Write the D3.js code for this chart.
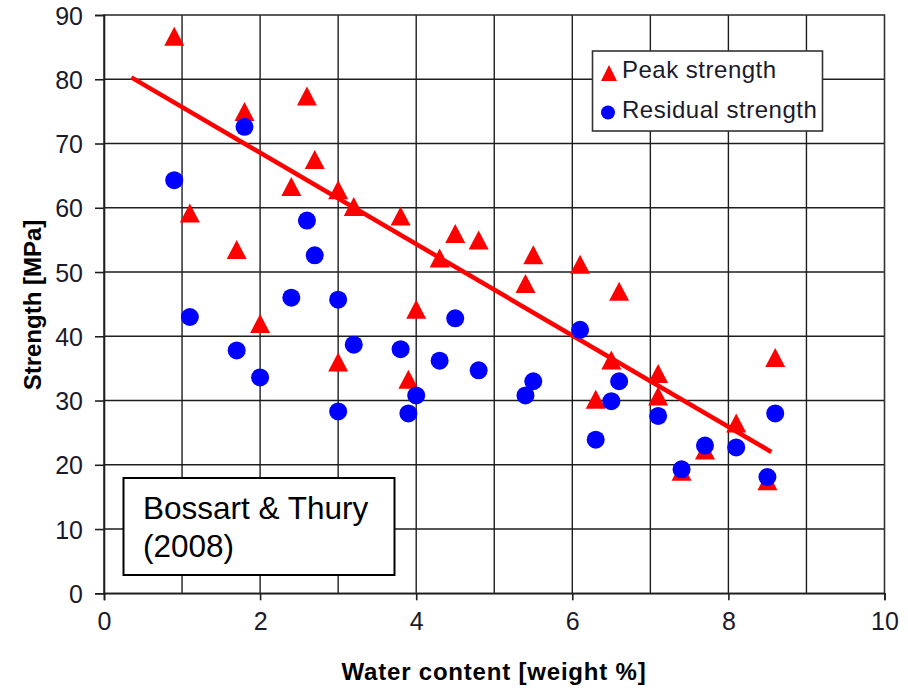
<!DOCTYPE html>
<html>
<head>
<meta charset="utf-8">
<script src="https://cdn.jsdelivr.net/npm/d3@7"></script>
<style>
  html, body { margin: 0; padding: 0; background: #fff; }
  svg { display: block; font-family: "Liberation Sans", Arial, sans-serif; }
</style>
</head>
<body>
<svg id="chart"></svg>
<script>
const width = 908;
const height = 688;

// peak strength (triangles)
const peakX = [0.9, 1.1, 1.7, 1.8, 2.0, 2.4, 2.6, 2.7, 3.0, 3.0, 3.2, 3.8, 3.9, 4.0, 4.3,
  4.5, 4.8, 5.4, 5.5, 6.1, 6.3, 6.5, 6.6, 7.1, 7.1, 7.4, 7.7, 8.1, 8.5, 8.6];
const peakY = [86.7, 59.2, 53.5, 75.0, 42.0, 63.3, 77.4, 67.5, 62.8, 36.0, 60.2, 58.7, 33.3, 44.2, 52.2,
  56.0, 55.0, 48.2, 52.7, 51.2, 30.2, 36.3, 47.0, 34.2, 30.7, 19.0, 22.3, 26.5, 17.5, 36.7];

// residual strength (circles)
const residualX = [0.9, 1.1, 1.7, 1.8, 2.0, 2.4, 2.6, 2.7, 3.0, 3.0, 3.2, 3.8, 3.9, 4.0, 4.3,
  4.5, 4.8, 5.4, 5.5, 6.1, 6.3, 6.5, 6.6, 7.1, 7.4, 7.7, 8.1, 8.5, 8.6];
const residualY = [64.3, 43.0, 37.8, 72.6, 33.6, 46.0, 58.0, 52.6, 45.7, 28.3, 38.7, 38.0, 28.0, 30.8, 36.2,
  42.8, 34.7, 30.8, 33.0, 41.0, 23.9, 29.9, 33.0, 27.6, 19.3, 23.0, 22.7, 18.1, 28.0];

// linear trend of the peak strength
const trendX = [0.35, 8.55];
const trendY = [80.3, 22.0];

const xTicks = [0, 2, 4, 6, 8, 10];
const xGrid = [1, 2, 3, 4, 5, 6, 7, 8, 9];
const yTicks = [0, 10, 20, 30, 40, 50, 60, 70, 80, 90];

const legendLabels = ["Peak strength", "Residual strength"];
const noteLines = ["Bossart & Thury", "(2008)"];

const margin = {top: 15, right: 23.5, bottom: 94.7, left: 104};

const svg = d3.select("#chart")
    .attr("width", width)
    .attr("height", height);

const x = d3.scaleLinear()
    .domain([0, 10])
    .range([margin.left, width - margin.right]);

const y = d3.scaleLinear()
    .domain([0, 90])
    .range([height - margin.bottom, margin.top]);

const gridColor = "#1e1e1e";

// grid lines
svg.append("g")
  .selectAll("line")
  .data(xGrid)
  .join("line")
    .attr("x1", d => x(d)).attr("x2", d => x(d))
    .attr("y1", y(0)).attr("y2", y(90))
    .attr("stroke", gridColor)
    .attr("stroke-width", 1.4);

svg.append("g")
  .selectAll("line")
  .data(yTicks.slice(1, -1))
  .join("line")
    .attr("x1", x(0)).attr("x2", x(10))
    .attr("y1", d => y(d)).attr("y2", d => y(d))
    .attr("stroke", gridColor)
    .attr("stroke-width", 1.4);

// plot frame
svg.append("rect")
    .attr("x", x(0)).attr("y", y(90))
    .attr("width", x(10) - x(0))
    .attr("height", y(0) - y(90))
    .attr("fill", "none")
    .attr("stroke", "#333")
    .attr("stroke-width", 1.6);

// axes
const xAxis = svg.append("g")
    .attr("transform", `translate(0,${y(0)})`)
    .call(d3.axisBottom(x).tickValues(xTicks).tickSize(7).tickPadding(12));
const yAxis = svg.append("g")
    .attr("transform", `translate(${x(0)},0)`)
    .call(d3.axisLeft(y).tickValues(yTicks).tickSize(9).tickPadding(12));

[xAxis, yAxis].forEach(g => {
  g.select(".domain").attr("stroke", "#1e1e1e").attr("stroke-width", 1.6);
  g.selectAll(".tick line").attr("stroke", "#1e1e1e").attr("stroke-width", 1.6);
  g.selectAll(".tick text")
    .attr("fill", "#1a1a2a")
    .style("font-size", "25px")
    .style("font-family", "'Liberation Sans', Arial, sans-serif");
});
yAxis.selectAll(".tick text").attr("dy", "0.36em");

// axis titles
svg.append("text")
    .attr("x", 494)
    .attr("y", 680)
    .attr("text-anchor", "middle")
    .style("font-size", "24px")
    .style("font-weight", "bold")
    .style("letter-spacing", "0.8px")
    .text("Water content [weight %]");

svg.append("text")
    .attr("transform", "translate(41,305) rotate(-90)")
    .attr("text-anchor", "middle")
    .style("font-size", "24px")
    .style("font-weight", "bold")
    .text("Strength [MPa]");

// trendline
svg.append("line")
    .attr("x1", x(trendX[0])).attr("y1", y(trendY[0]))
    .attr("x2", x(trendX[1])).attr("y2", y(trendY[1]))
    .attr("stroke", "#ff0000")
    .attr("stroke-width", 4.5);

// marker shapes
const triPath = (w, h) => `M0,${-h / 2}L${w / 2},${h / 2}L${-w / 2},${h / 2}Z`;

svg.append("g")
  .selectAll("path")
  .data(peakX.map((d, i) => [d, peakY[i]]))
  .join("path")
    .attr("d", triPath(20, 19))
    .attr("transform", d => `translate(${x(d[0])},${y(d[1])})`)
    .attr("fill", "#ff0000");

svg.append("g")
  .selectAll("circle")
  .data(residualX.map((d, i) => [d, residualY[i]]))
  .join("circle")
    .attr("cx", d => x(d[0]))
    .attr("cy", d => y(d[1]))
    .attr("r", 9)
    .attr("fill", "#0000ff");

// legend
const legend = svg.append("g");
legend.append("rect")
    .attr("x", 592.5).attr("y", 51)
    .attr("width", 230).attr("height", 80)
    .attr("fill", "#fff")
    .attr("stroke", "#333")
    .attr("stroke-width", 1.6);

legend.append("path")
    .attr("d", triPath(16, 16))
    .attr("transform", "translate(609,73)")
    .attr("fill", "#ff0000");
legend.append("circle")
    .attr("cx", 608).attr("cy", 112.5)
    .attr("r", 7)
    .attr("fill", "#0000ff");

legend.selectAll("text")
  .data(legendLabels)
  .join("text")
    .attr("x", 622)
    .attr("y", (d, i) => 78 + i * 40)
    .attr("fill", "#1a1a2a")
    .style("font-size", "24px")
    .style("letter-spacing", "0.5px")
    .text(d => d);

// citation box
svg.append("rect")
    .attr("x", 123.5).attr("y", 478)
    .attr("width", 271).attr("height", 97)
    .attr("fill", "#fff")
    .attr("stroke", "#000")
    .attr("stroke-width", 2);

svg.append("g")
  .selectAll("text")
  .data(noteLines)
  .join("text")
    .attr("x", 143)
    .attr("y", (d, i) => 519 + i * 38)
    .attr("fill", "#000")
    .style("font-size", "31.5px")
    .text(d => d);
</script>
</body>
</html>
